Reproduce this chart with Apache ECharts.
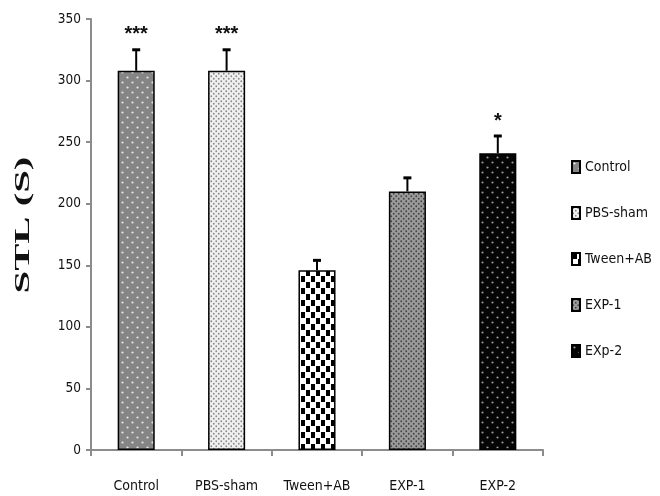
<!DOCTYPE html>
<html><head><meta charset="utf-8">
<script src="https://cdn.jsdelivr.net/npm/echarts@6/dist/echarts.min.js"></script>
<style>html,body{margin:0;padding:0;background:#fff}#c{width:660px;height:496px}</style>
</head><body><div id="c"></div>
<script>
const categories = ['Control', 'PBS-sham', 'Tween+AB', 'EXP-1', 'EXP-2'];
const legendNames = ['Control', 'PBS-sham', 'Tween+AB', 'EXP-1', 'EXp-2'];
const means = [308, 308, 146, 210, 241];
const errors = [17, 17, 8, 11, 14];
const stars = ['***', '***', '', '', '*'];
const yTicks = { min: 0, max: 350, interval: 50 };
const yTitle = 'STL (S)';

const FONT = "'Liberation Sans Narrow','DejaVu Sans Condensed','Liberation Sans',sans-serif";

function pattern(w, h, draw) {
  const c = document.createElement('canvas');
  c.width = w; c.height = h;
  const ctx = c.getContext('2d');
  draw(ctx, w, h);
  return { image: c, repeat: 'repeat' };
}
function dotFill(bg, fg, step, r) {
  return pattern(step * 2, step * 2, (ctx, w, h) => {
    ctx.fillStyle = bg; ctx.fillRect(0, 0, w, h);
    ctx.fillStyle = fg;
    [[step / 2, step / 2], [step * 1.5, step * 1.5]].forEach(p => {
      ctx.beginPath(); ctx.arc(p[0], p[1], r, 0, Math.PI * 2); ctx.fill();
    });
  });
}
const fills = [
  dotFill('#858585', '#e8e8e8', 5, 1.1),
  dotFill('#f0f0f0', '#8a8a8a', 2.5, 0.9),
  pattern(10, 12, (ctx, w, h) => {
    ctx.fillStyle = '#fff'; ctx.fillRect(0, 0, w, h);
    ctx.fillStyle = '#000';
    ctx.fillRect(1, 0, 4, 6); ctx.fillRect(6, 6, 4, 6);
  }),
  dotFill('#9a9a9a', '#444', 2.5, 0.9),
  dotFill('#050505', '#999', 5, 1.1)
];

const chart = echarts.init(document.getElementById('c'));
const barSeries = categories.map((c, i) => ({
  name: legendNames[i],
  type: 'bar',
  barWidth: '41%',
  barGap: '-100%',
  data: categories.map((_, j) => j === i ? means[j] : '-'),
  itemStyle: { color: fills[i], borderColor: '#000', borderWidth: 1.5 },
  silent: true
}));

const errData = categories.map((_, i) => [i, means[i], errors[i], stars[i]]);

chart.setOption({
  animation: false,
  backgroundColor: '#fff',
  grid: { left: 91, right: 117, top: 19, bottom: 46 },
  graphic: [{
    type: 'text', x: 23, y: 225, rotation: Math.PI / 2, scaleX: 1.85,
    style: { text: yTitle, align: 'center', verticalAlign: 'middle',
             font: 'bold 22px "Liberation Serif"', fill: '#111' }
  }],
  legend: {
    orient: 'vertical', left: 566, top: 155, itemGap: 32,
    itemWidth: 8, itemHeight: 12, icon: 'rect',
    data: legendNames,
    textStyle: { fontFamily: FONT, fontSize: 14, color: '#111' }
  },
  xAxis: {
    type: 'category', data: categories,
    axisLine: { lineStyle: { color: '#8c8c8c', width: 2 } },
    axisTick: { show: true, length: 6, lineStyle: { color: '#8c8c8c', width: 2 } },
    axisLabel: { margin: 29, fontFamily: FONT, fontSize: 14, color: '#111' }
  },
  yAxis: {
    type: 'value', min: yTicks.min, max: yTicks.max, interval: yTicks.interval,
    axisLine: { show: true, lineStyle: { color: '#8c8c8c', width: 2 } },
    axisTick: { show: true, length: 5, lineStyle: { color: '#8c8c8c', width: 2 } },
    splitLine: { show: false },
    axisLabel: { margin: 10, fontFamily: FONT, fontSize: 13.5, color: '#111' }
  },
  series: barSeries.concat([{
    type: 'custom',
    silent: true,
    data: errData,
    z: 1,
    renderItem: (params, api) => {
      const x = api.value(0), m = api.value(1), e = api.value(2);
      const base = api.coord([x, m]);
      const top = api.coord([x, m + e]);
      const st = errData[params.dataIndex][3];
      const children = [
        { type: 'line', shape: { x1: base[0], y1: base[1], x2: top[0], y2: top[1] }, style: { stroke: '#000', lineWidth: 2 } },
        { type: 'line', shape: { x1: top[0] - 4, y1: top[1], x2: top[0] + 4, y2: top[1] }, style: { stroke: '#000', lineWidth: 3 } }
      ];
      if (st) children.push({
        type: 'text',
        style: { text: st, x: top[0], y: top[1] - 5, align: 'center', verticalAlign: 'bottom',
                 font: 'bold 20px "Liberation Sans"', fill: '#111' }
      });
      return { type: 'group', children };
    }
  }])
});
</script></body></html>
